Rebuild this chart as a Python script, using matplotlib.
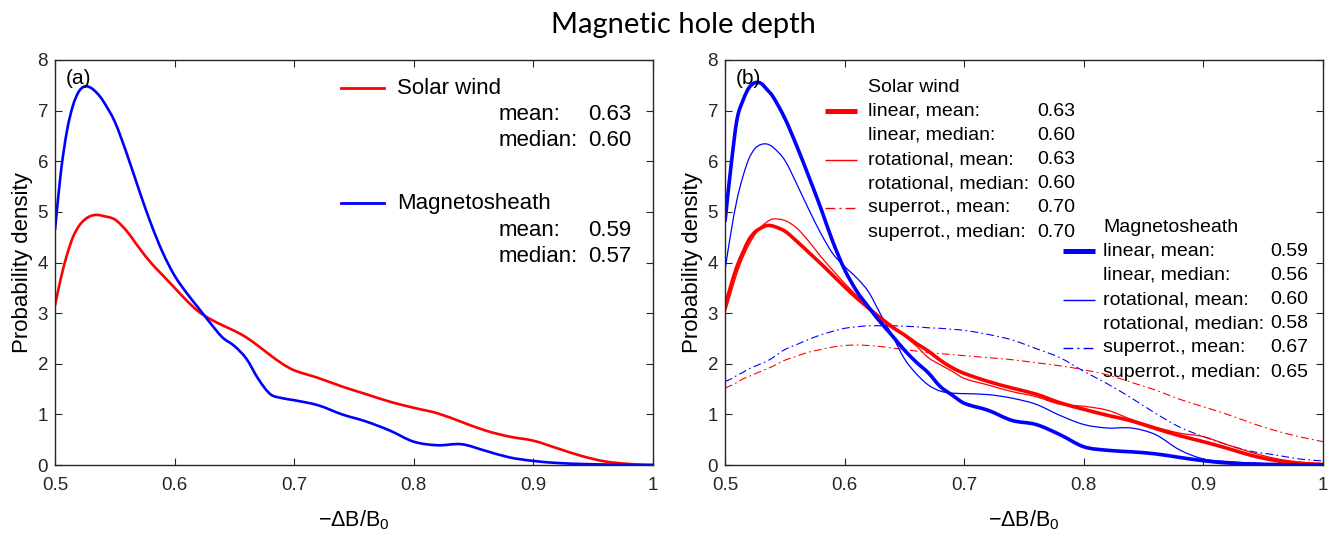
import matplotlib
matplotlib.use('Agg')
import matplotlib.pyplot as plt
from matplotlib.path import Path
from matplotlib.patches import PathPatch
from matplotlib.ticker import FormatStrFormatter

plt.rcParams['font.family'] = ['Liberation Sans', 'DejaVu Sans']
plt.rcParams['mathtext.fontset'] = 'custom'
plt.rcParams['mathtext.rm'] = 'Liberation Sans'

# depth grid (-dB/B0)
depth = [0.500, 0.505, 0.510, 0.515, 0.520, 0.525, 0.530, 0.535, 0.540, 0.550,
         0.560, 0.570, 0.580, 0.590, 0.600, 0.610, 0.620, 0.630, 0.640, 0.650,
         0.660, 0.670, 0.680, 0.690, 0.700, 0.720, 0.740, 0.760, 0.780, 0.800,
         0.820, 0.840, 0.860, 0.880, 0.900, 0.920, 0.940, 0.960, 0.980, 1.000]

# panel (a)
sw_all = [3.15, 3.70, 4.15, 4.50, 4.72, 4.85, 4.92, 4.94, 4.92, 4.85,
          4.62, 4.30, 4.00, 3.75, 3.50, 3.25, 3.03, 2.88, 2.76, 2.65,
          2.52, 2.35, 2.17, 2.00, 1.87, 1.72, 1.55, 1.40, 1.25, 1.13,
          1.02, 0.85, 0.68, 0.56, 0.48, 0.33, 0.18, 0.07, 0.02, 0.00]
msh_all = [4.64, 5.80, 6.60, 7.10, 7.38, 7.48, 7.45, 7.35, 7.20, 6.78,
           6.15, 5.45, 4.78, 4.20, 3.74, 3.40, 3.10, 2.80, 2.52, 2.35,
           2.10, 1.70, 1.40, 1.32, 1.28, 1.18, 1.00, 0.86, 0.68, 0.46,
           0.39, 0.41, 0.28, 0.15, 0.08, 0.04, 0.02, 0.01, 0.00, 0.00]

# panel (b)
sw_lin = [3.13, 3.55, 3.92, 4.20, 4.45, 4.60, 4.68, 4.73, 4.72, 4.62,
          4.42, 4.20, 3.98, 3.75, 3.52, 3.30, 3.10, 2.90, 2.72, 2.57,
          2.40, 2.25, 2.07, 1.92, 1.81, 1.65, 1.52, 1.40, 1.23, 1.10,
          0.98, 0.87, 0.72, 0.58, 0.46, 0.33, 0.19, 0.09, 0.03, 0.01]
sw_rot = [3.00, 3.40, 3.79, 4.10, 4.35, 4.55, 4.70, 4.80, 4.86, 4.83,
          4.68, 4.42, 4.12, 3.85, 3.59, 3.35, 3.12, 2.93, 2.75, 2.55,
          2.35, 2.12, 1.98, 1.85, 1.71, 1.58, 1.45, 1.35, 1.20, 1.16,
          1.08, 0.90, 0.75, 0.63, 0.56, 0.40, 0.25, 0.13, 0.06, 0.03]
sw_sup = [1.52, 1.57, 1.63, 1.70, 1.75, 1.80, 1.85, 1.90, 1.95, 2.07,
          2.15, 2.23, 2.28, 2.33, 2.36, 2.37, 2.36, 2.34, 2.31, 2.28,
          2.25, 2.22, 2.20, 2.18, 2.16, 2.12, 2.08, 2.02, 1.96, 1.88,
          1.78, 1.63, 1.48, 1.30, 1.15, 1.00, 0.83, 0.68, 0.56, 0.46]
msh_lin = [4.81, 5.90, 6.82, 7.20, 7.45, 7.55, 7.54, 7.42, 7.28, 6.85,
           6.30, 5.70, 5.08, 4.42, 3.86, 3.44, 3.12, 2.82, 2.55, 2.27,
           2.03, 1.82, 1.55, 1.38, 1.22, 1.08, 0.88, 0.80, 0.60, 0.36,
           0.29, 0.26, 0.22, 0.15, 0.085, 0.04, 0.02, 0.01, 0.00, 0.00]
msh_rot = [3.85, 4.60, 5.24, 5.70, 6.05, 6.25, 6.33, 6.34, 6.28, 6.02,
           5.55, 5.05, 4.58, 4.18, 3.92, 3.70, 3.42, 2.98, 2.55, 2.10,
           1.80, 1.58, 1.46, 1.42, 1.41, 1.39, 1.32, 1.20, 0.98, 0.80,
           0.73, 0.73, 0.60, 0.30, 0.12, 0.07, 0.04, 0.02, 0.01, 0.00]
msh_sup = [1.65, 1.70, 1.77, 1.83, 1.90, 1.95, 2.00, 2.05, 2.12, 2.28,
           2.38, 2.48, 2.57, 2.64, 2.70, 2.73, 2.75, 2.75, 2.75, 2.74,
           2.73, 2.71, 2.70, 2.68, 2.66, 2.58, 2.47, 2.30, 2.12, 1.85,
           1.60, 1.32, 1.02, 0.75, 0.56, 0.40, 0.27, 0.20, 0.12, 0.08]

stats_a = [('Solar wind', 'red', '0.63', '0.60'),
           ('Magnetosheath', 'blue', '0.59', '0.57')]
labels_b = ['linear, mean:', 'linear, median:', 'rotational, mean:',
            'rotational, median:', 'superrot., mean:', 'superrot., median:']
values_sw = ['0.63', '0.60', '0.63', '0.60', '0.70', '0.70']
values_msh = ['0.59', '0.56', '0.60', '0.58', '0.67', '0.65']

DD = (0, (7, 3, 1.5, 3))


def curve(ax, x, y, **kw):
    # smooth bezier through the read points (hermite tangents)
    n = len(x)
    m = []
    for i in range(n):
        a = max(i - 1, 0)
        b = min(i + 1, n - 1)
        m.append((y[b] - y[a]) / (x[b] - x[a]))
    verts = [(x[0], y[0])]
    codes = [Path.MOVETO]
    for i in range(n - 1):
        h = (x[i + 1] - x[i]) / 3.0
        verts += [(x[i] + h, y[i] + m[i] * h),
                  (x[i + 1] - h, y[i + 1] - m[i + 1] * h),
                  (x[i + 1], y[i + 1])]
        codes += [Path.CURVE4] * 3
    p = PathPatch(Path(verts, codes), fill=False, capstyle='butt',
                  joinstyle='round', **kw)
    ax.add_patch(p)


fig = plt.figure(figsize=(13.33, 5.36), dpi=100)
ax1 = fig.add_axes([55/1333, 71/536, 598/1333, 405/536])
ax2 = fig.add_axes([725/1333, 71/536, 598/1333, 405/536])

curve(ax1, depth, sw_all, edgecolor='red', lw=1.9)
curve(ax1, depth, msh_all, edgecolor='blue', lw=1.9)

curve(ax2, depth, sw_sup, edgecolor='red', lw=0.8, linestyle=DD)
curve(ax2, depth, msh_sup, edgecolor='blue', lw=0.8, linestyle=DD)
curve(ax2, depth, sw_rot, edgecolor='red', lw=0.9)
curve(ax2, depth, msh_rot, edgecolor='blue', lw=0.9)
curve(ax2, depth, sw_lin, edgecolor='red', lw=2.6)
curve(ax2, depth, msh_lin, edgecolor='blue', lw=2.6)

for ax in (ax1, ax2):
    ax.set_xlim(0.5, 1)
    ax.set_ylim(0, 8)
    ax.set_xticks([0.5, 0.6, 0.7, 0.8, 0.9, 1.0])
    ax.xaxis.set_major_formatter(FormatStrFormatter('%g'))
    ax.tick_params(direction='in', top=True, right=True, length=5,
                   labelsize=13.5, colors='#262626', pad=5)
    ax.tick_params(axis='x', pad=9)
    for s in ax.spines.values():
        s.set_color('#262626')
        s.set_linewidth(1.0)
    ax.set_xlabel('−ΔB/B$_0$', fontsize=15.5, labelpad=10)
    ax.set_ylabel('Probability density', fontsize=16, labelpad=3)

ax1.text(0.018, 0.978, '(a)', transform=ax1.transAxes, fontsize=15, va='top')
ax2.text(0.018, 0.978, '(b)', transform=ax2.transAxes, fontsize=15, va='top')

# legend panel (a)
def fx(px, x0):
    return (px - x0) / 598.0

def fy(py):
    return (465 - py) / 405.0

for i, (name, col, mn, md) in enumerate(stats_a):
    y0 = 88 + i * 115
    ax1.plot([fx(341, 55), fx(384, 55)], [fy(y0), fy(y0)], color=col, lw=2.0,
             transform=ax1.transAxes, clip_on=False)
    ax1.text(fx(397, 55), fy(y0), name, transform=ax1.transAxes,
             fontsize=16, va='center')
    ax1.text(fx(499, 55), fy(y0 + 27), 'mean:', transform=ax1.transAxes,
             fontsize=16, va='center')
    ax1.text(fx(631, 55), fy(y0 + 27), mn, transform=ax1.transAxes,
             fontsize=16, va='center', ha='right')
    ax1.text(fx(499, 55), fy(y0 + 53), 'median:', transform=ax1.transAxes,
             fontsize=16, va='center')
    ax1.text(fx(631, 55), fy(y0 + 53), md, transform=ax1.transAxes,
             fontsize=16, va='center', ha='right')

# legend panel (b)
styles = [dict(lw=3.6, linestyle='-'), None, dict(lw=1.0, linestyle='-'),
          None, dict(lw=1.0, linestyle=DD), None]
groups = [('Solar wind', 'red', values_sw, 825, 868, 1075, 87),
          ('Magnetosheath', 'blue', values_msh, 1063, 1103, 1308, 227)]
for name, col, vals, lx, tx, vx, ty in groups:
    ax2.text(fx(tx, 725), fy(ty), name, transform=ax2.transAxes,
             fontsize=14, va='center')
    for j, lab in enumerate(labels_b):
        yy = ty + 24.2 * (j + 1)
        if styles[j] is not None:
            ax2.plot([fx(lx, 725), fx(lx + 32, 725)], [fy(yy), fy(yy)],
                     color=col, transform=ax2.transAxes, clip_on=False,
                     solid_capstyle='butt', **styles[j])
        ax2.text(fx(tx, 725), fy(yy), lab, transform=ax2.transAxes,
                 fontsize=14, va='center')
        ax2.text(fx(vx, 725), fy(yy), vals[j], transform=ax2.transAxes,
                 fontsize=14, va='center', ha='right')

fig.text(683/1333, 1 - 33/536, 'Magnetic hole depth', ha='center',
         va='baseline', fontsize=21, family=['Lato', 'DejaVu Sans'])

fig.savefig('out.png', dpi=100)
